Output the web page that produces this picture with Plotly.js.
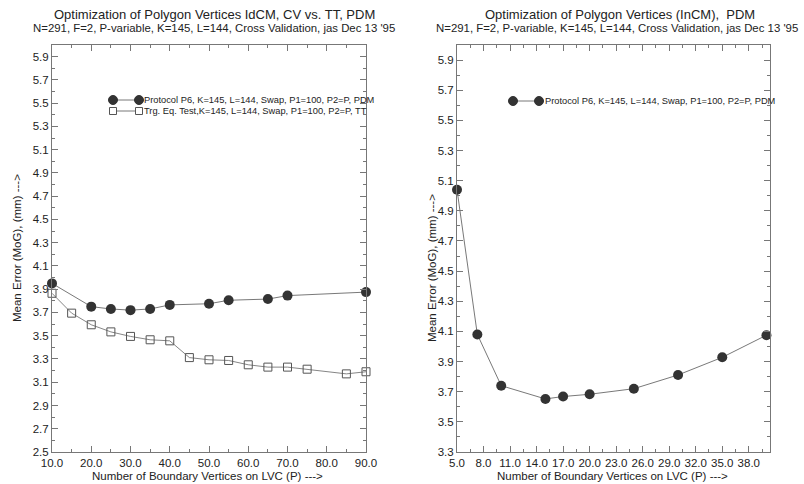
<!DOCTYPE html>
<html><head><meta charset="utf-8">
<script src="https://cdn.plot.ly/plotly-3.0.1.min.js"></script>
<style>html,body{margin:0;padding:0;background:#fff;}#chart{width:804px;height:484px;}</style>
</head><body><div id="chart"></div>
<script>
// ---- data ----
const leftP6X = [10, 20, 25, 30, 35, 40, 50, 55, 65, 70, 90];
const leftP6Y = [3.95, 3.75, 3.73, 3.72, 3.73, 3.765, 3.775, 3.805, 3.815, 3.845, 3.875];
const leftTTX = [10, 15, 20, 25, 30, 35, 40, 45, 50, 55, 60, 65, 70, 75, 85, 90];
const leftTTY = [3.865, 3.694, 3.594, 3.533, 3.494, 3.465, 3.456, 3.312, 3.293, 3.287, 3.25, 3.23, 3.23, 3.212, 3.172, 3.19];
const rightX = [5, 7.3, 10, 15, 17, 20, 25, 30, 35, 40];
const rightY = [5.04, 4.08, 3.74, 3.652, 3.668, 3.683, 3.72, 3.811, 3.928, 4.075];

const leftTitle = "Optimization of Polygon Vertices IdCM, CV vs. TT, PDM";
const rightTitle = "Optimization of Polygon Vertices (InCM),  PDM";
const subTitle = "N=291, F=2, P-variable, K=145, L=144, Cross Validation, jas Dec 13 '95";
const xTitle = "Number of Boundary Vertices on LVC (P) --->";
const yTitle = "Mean Error (MoG), (mm) --->";
const nameP6 = "Protocol P6, K=145, L=144, Swap, P1=100, P2=P, PDM";
const nameTT = "Trg. Eq. Test,K=145, L=144, Swap, P1=100, P2=P, TT";

// ---- layout helpers ----
const W = 804, H = 484;
const px = x => x / W;
const py = y => 1 - y / H;
const FONT = '"Liberation Sans", Arial, sans-serif';
const TXT = '#222';
const LINE = '#555';
const DOT = '#333';
const AX = '#777';

const traces = [
  {x: leftP6X, y: leftP6Y, xaxis: 'x', yaxis: 'y', mode: 'lines+markers', name: nameP6,
   line: {color: LINE, width: 0.8}, marker: {symbol: 'circle', size: 10, color: DOT}, cliponaxis: false},
  {x: leftTTX, y: leftTTY, xaxis: 'x', yaxis: 'y', mode: 'lines+markers', name: nameTT,
   line: {color: '#666', width: 0.8}, marker: {symbol: 'square-open', size: 8, color: '#555', line: {width: 1}}, cliponaxis: false},
  {x: rightX, y: rightY, xaxis: 'x2', yaxis: 'y2', mode: 'lines+markers', name: nameP6,
   line: {color: LINE, width: 0.8}, marker: {symbol: 'circle', size: 10, color: DOT}, cliponaxis: false}
];

function axis(extra) {
  return Object.assign({
    showgrid: false, zeroline: false, showline: true, linecolor: AX, linewidth: 1,
    mirror: 'ticks', ticks: 'inside', ticklen: 6, tickcolor: AX, tickwidth: 1,
    tickfont: {family: FONT, size: 11.5, color: TXT}, tickformat: '.1f',
    automargin: false, fixedrange: true
  }, extra);
}

const shapes = [];
const annotations = [];
function ann(text, x, y, size, opts) {
  annotations.push(Object.assign({text: text, x: px(x), y: py(y), xref: 'paper', yref: 'paper',
    showarrow: false, font: {family: FONT, size: size, color: TXT}, xanchor: 'center', yanchor: 'middle'}, opts || {}));
}
function legCircle(cx, cy) {
  const r = 4.5;
  shapes.push({type: 'circle', xref: 'paper', yref: 'paper', x0: px(cx - r), x1: px(cx + r), y0: py(cy + r), y1: py(cy - r),
    fillcolor: DOT, line: {color: DOT, width: 1}});
}
function legSquare(cx, cy) {
  const r = 3.5;
  shapes.push({type: 'rect', xref: 'paper', yref: 'paper', x0: px(cx - r), x1: px(cx + r), y0: py(cy + r), y1: py(cy - r),
    fillcolor: 'rgba(0,0,0,0)', line: {color: '#555', width: 1}});
}
function legLine(x0, x1, y) {
  shapes.push({type: 'line', xref: 'paper', yref: 'paper', x0: px(x0), x1: px(x1), y0: py(y), y1: py(y), line: {color: LINE, width: 0.8}});
}

// left legend
legLine(113, 139, 100); legCircle(113, 100); legCircle(139, 100);
ann(nameP6, 142, 100, 9.3, {xanchor: 'left'});
legLine(116.5, 135.5, 111); legSquare(113, 111); legSquare(139, 111);
ann(nameTT, 142, 111, 9.3, {xanchor: 'left'});
// right legend
legLine(513, 539, 101); legCircle(513, 101); legCircle(539, 101);
ann(nameP6, 543, 101, 9.3, {xanchor: 'left'});

// titles
ann(leftTitle, 214, 14, 13);
ann(subTitle, 214, 28, 11.4);
ann(rightTitle, 620, 14, 13);
ann(subTitle, 617, 28, 11.4);
// axis titles
ann(xTitle, 207, 476, 11.5);
ann(xTitle, 612, 476, 11.5);
ann(yTitle, 17, 248, 11.5, {textangle: -90});
ann(yTitle, 432, 268, 11.5, {textangle: -90});

const layout = {
  width: W, height: H, margin: {l: 0, r: 0, t: 0, b: 0},
  paper_bgcolor: '#fff', plot_bgcolor: '#fff', showlegend: false,
  font: {family: FONT, color: TXT},
  xaxis: axis({domain: [px(52), px(366)], range: [10, 90], tick0: 10, dtick: 10, anchor: 'y',
    minor: {ticks: 'inside', ticklen: 3, tickcolor: AX, dtick: 5, tick0: 10}}),
  yaxis: axis({domain: [py(452), py(45)], range: [2.5, 6.0], tick0: 2.5, dtick: 0.2, anchor: 'x',
    minor: {ticks: 'inside', ticklen: 3, tickcolor: AX, dtick: 0.1, tick0: 2.5}}),
  xaxis2: axis({domain: [px(457), px(770)], range: [5, 40.4], tick0: 5, dtick: 3, anchor: 'y2',
    minor: {ticks: 'inside', ticklen: 3, tickcolor: AX, dtick: 1.5, tick0: 5}}),
  yaxis2: axis({domain: [py(452), py(45)], range: [3.3, 6.0], tick0: 3.3, dtick: 0.2, anchor: 'x2',
    minor: {ticks: 'inside', ticklen: 3, tickcolor: AX, dtick: 0.1, tick0: 3.3}}),
  shapes: shapes,
  annotations: annotations
};

Plotly.newPlot('chart', traces, layout, {staticPlot: true, displayModeBar: false});
</script>
</body></html>
